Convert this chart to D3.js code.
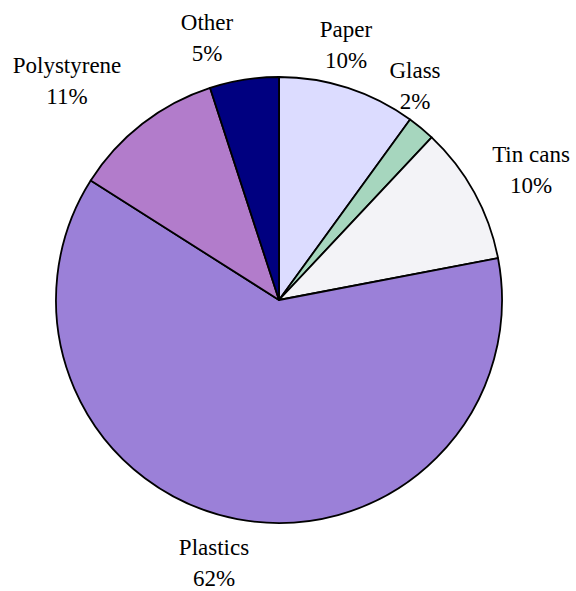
<!DOCTYPE html>
<html>
<head>
<meta charset="utf-8">
<script src="https://cdn.jsdelivr.net/npm/d3@7"></script>
<style>
  html, body { margin: 0; padding: 0; background: #ffffff; }
  svg { display: block; }
  .lbl { font-family: "Liberation Serif", "DejaVu Serif", serif; font-size: 23px; fill: #000; }
</style>
</head>
<body>
<svg id="chart" width="576" height="591"></svg>
<script>
// Composition of collected waste (share of total, %)
const categories = ["Paper", "Glass", "Tin cans", "Plastics", "Polystyrene", "Other"];
const shares = [10, 2, 10, 62, 11, 5];
const shareLabels = ["10%", "2%", "10%", "62%", "11%", "5%"];
const sliceColors = ["#dcdcff", "#a6d6be", "#f3f3f7", "#9b80d8", "#b27ccb", "#000080"];

const width = 576, height = 591;
const cx = 279, cy = 300, radius = 223;

const svg = d3.select("#chart");

const fills = d3.scaleOrdinal().domain(categories).range(sliceColors);

const pie = d3.pie().sort(null).value(d => d.value)
  .startAngle(0).endAngle(2 * Math.PI);
const data = categories.map((c, i) => ({ name: c, value: shares[i], label: shareLabels[i] }));
const arcs = pie(data);

const arc = d3.arc().innerRadius(0).outerRadius(radius);

const g = svg.append("g").attr("transform", `translate(${cx},${cy})`);
g.selectAll("path.slice")
  .data(arcs)
  .join("path")
  .attr("class", "slice")
  .attr("d", arc)
  .attr("fill", d => fills(d.data.name))
  .attr("stroke", "#000")
  .attr("stroke-width", 1.8)
  .attr("stroke-linejoin", "round");

// Label anchor (centre x, first baseline) relative to the pie centre
const labelPos = {
  "Paper":       [67, -263],
  "Glass":       [136, -222],
  "Tin cans":    [252, -138],
  "Plastics":    [-65, 255],
  "Polystyrene": [-212, -227],
  "Other":       [-72, -270]
};

const labels = g.selectAll("g.label")
  .data(arcs)
  .join("g")
  .attr("class", "label")
  .attr("transform", d => `translate(${labelPos[d.data.name][0]},${labelPos[d.data.name][1]})`);
labels.append("text")
  .attr("class", "lbl")
  .attr("text-anchor", "middle")
  .attr("y", 0)
  .text(d => d.data.name);
labels.append("text")
  .attr("class", "lbl")
  .attr("text-anchor", "middle")
  .attr("y", 31)
  .text(d => d.data.label);
</script>
</body>
</html>
